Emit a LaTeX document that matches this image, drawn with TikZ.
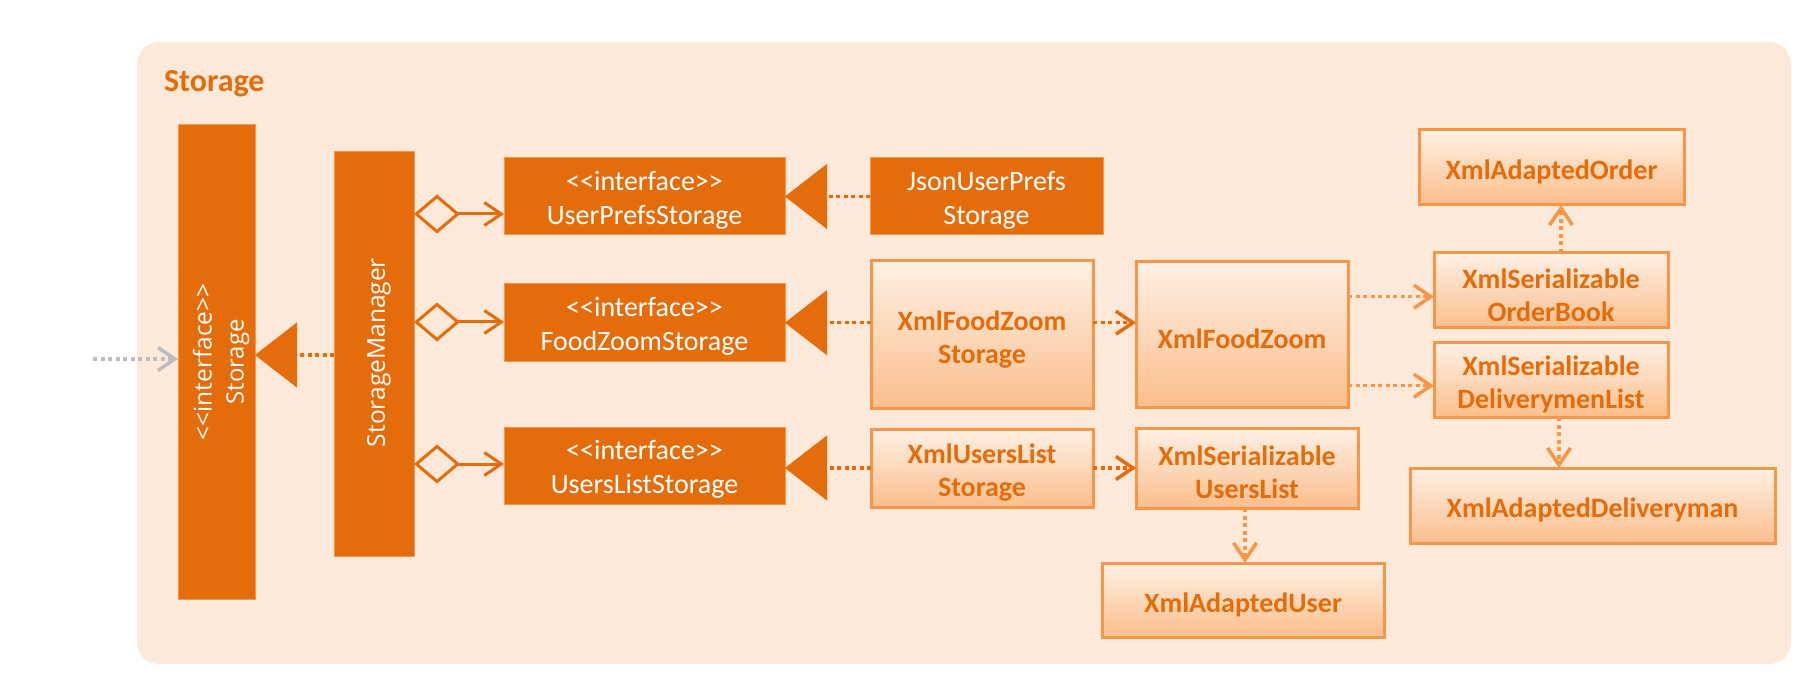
\documentclass[tikz,border=0pt]{standalone}
\usepackage{graphicx}
\usepackage{fontspec}
\setmainfont{Carlito}
\newfontfamily\segoe{Open Sans}
\usetikzlibrary{arrows.meta}
\definecolor{dorange}{HTML}{E46C0A}
\definecolor{lorange}{HTML}{F79646}
\definecolor{bgpeach}{HTML}{FDE9D9}
\definecolor{gtop}{HTML}{FEF0E4}
\definecolor{gbot}{HTML}{FBBE8C}
\definecolor{arrgray}{HTML}{BDBDBD}
\newcommand\myll{<\kern0pt<}
\newcommand\mygg{>\kern0pt>}
\newcommand\dn[1]{\rule{0pt}{#1}}
\tikzset{
  mybarb/.tip={Straight Barb[length=17pt,width=23pt]},
  mytri/.tip={Triangle[length=42pt,width=65pt,line width=0.5pt]},
  mydia/.tip={Diamond[open,length=46pt,width=39pt]},
}
\begin{document}
\begin{tikzpicture}[x=1pt,y=-1pt,
  every node/.style={inner sep=0pt, outer sep=0pt},
  darkbox/.style={fill=dorange, draw=lorange, line width=1pt, text=white, align=center, font=\fontsize{28}{34.5}\selectfont},
  lightbox/.style={top color=gtop, bottom color=gbot, draw=lorange, line width=3pt, text=dorange, align=center, font=\bfseries\fontsize{28}{33}\selectfont},
  vbox/.style={fill=dorange, draw=lorange, line width=1pt},
  vtext/.style={rotate=90, text=white, align=center, font=\segoe\fontsize{24}{32}\selectfont},
  dots/.style={line width=3.5pt, dash pattern=on 4pt off 3.5pt},
  graydep/.style={dots, draw=arrgray, -mybarb},
  ddep/.style={dots, draw=dorange, -mybarb},
  ldep/.style={dots, draw=lorange, -mybarb},
  real/.style={dots, draw=dorange, -mytri, fill=dorange},
  agg/.style={draw=dorange, line width=3pt, mydia-mybarb},
]
\fill[white] (0,0) rectangle (1814,700);
\useasboundingbox (0,0) rectangle (1814,700);
\fill[bgpeach, rounded corners=22pt] (137,42) rectangle (1791,664);

\node[anchor=base west, text=dorange, font=\bfseries\fontsize{32}{38}\selectfont] (title) at (164,92) {Storage};

\node[vbox, minimum width=77pt, minimum height=474pt] (storage) at (216.5,362) {};
\node[vtext] (storagetxt) at (221,362) {\resizebox{157pt}{!}{\myll interface\mygg}\\\resizebox{85pt}{!}{Storage}};
\node[vbox, minimum width=80pt, minimum height=404pt] (mgr) at (374,354) {};
\node[vtext] (mgrtxt) at (379,352.5) {\resizebox{189pt}{!}{StorageManager}};

\node[darkbox, minimum width=281pt, minimum height=77pt] (ups) at (644.5,196.5) {\dn{27pt}\myll interface\mygg\\UserPrefsStorage};
\node[darkbox, minimum width=281pt, minimum height=77pt] (fzs) at (644.5,322.5) {\dn{27pt}\myll interface\mygg\\FoodZoomStorage};
\node[darkbox, minimum width=281pt, minimum height=77pt] (uls) at (644.5,465.5) {\dn{27pt}\myll interface\mygg\\UsersListStorage};
\node[darkbox, minimum width=233pt, minimum height=77pt] (json) at (986.5,196.5) {\dn{27pt}JsonUserPrefs\\Storage};

\node[lightbox, minimum width=222pt, minimum height=147pt] (xfzs) at (982,334.5) {\dn{29pt}XmlFoodZoom\\Storage};
\node[lightbox, minimum width=212pt, minimum height=145pt] (xfz) at (1242,334.5) {\dn{29pt}XmlFoodZoom};
\node[lightbox, minimum width=222pt, minimum height=78pt] (xuls) at (982,468) {\dn{29pt}XmlUsersList\\Storage};
\node[lightbox, minimum width=222pt, minimum height=80pt] (xsul) at (1247,468) {\dn{29pt}XmlSerializable\\UsersList};
\node[lightbox, minimum width=282pt, minimum height=74pt] (xau) at (1243,600) {\dn{29pt}XmlAdaptedUser};
\node[lightbox, minimum width=265pt, minimum height=75pt] (xao) at (1551.5,167.5) {\dn{29pt}XmlAdaptedOrder};
\node[lightbox, minimum width=234pt, minimum height=75pt] (xsob) at (1551,290.5) {\dn{29pt}XmlSerializable\\OrderBook};
\node[lightbox, minimum width=234pt, minimum height=74pt] (xsdl) at (1551,380) {\dn{29pt}XmlSerializable\\DeliverymenList};
\node[lightbox, minimum width=365pt, minimum height=75pt] (xad) at (1592.5,505.5) {\dn{29pt}XmlAdaptedDeliveryman};

\coordinate (gstart) at (93,359);
\draw[graydep] (gstart) -- (storage.west |- gstart);
\draw[real] (mgr.west |- 0,355) -- (storage.east |- 0,355);

\draw[agg] (mgr.east |- 0,214) -- (ups.west |- 0,214);
\draw[agg] (mgr.east |- 0,322) -- (fzs.west |- 0,322);
\draw[agg] (mgr.east |- 0,464) -- (uls.west |- 0,464);

\draw[real] (json.west) -- (ups.east |- json.west);
\draw[real] (xfzs.west |- 0,322.7) -- (fzs.east |- 0,322.7);
\draw[real] (xuls.west |- 0,468) -- (uls.east |- 0,468);

\draw[ddep] (xfzs.east |- 0,322.7) -- (xfz.west |- 0,322.7);
\draw[ddep] (xuls.east |- 0,468) -- (xsul.west |- 0,468);
\draw[ldep] (xfz.east |- 0,296.7) -- (xsob.west |- 0,296.7);
\draw[ldep] (xfz.east |- 0,385.7) -- (xsdl.west |- 0,385.7);
\draw[ldep] (xsob.north -| 1561,0) -- (xao.south -| 1561,0);
\draw[ldep] (xsdl.south -| 1559,0) -- (xad.north -| 1559,0);
\draw[ldep] (xsul.south -| 1245,0) -- (xau.north -| 1245,0);
\end{tikzpicture}
\end{document}
